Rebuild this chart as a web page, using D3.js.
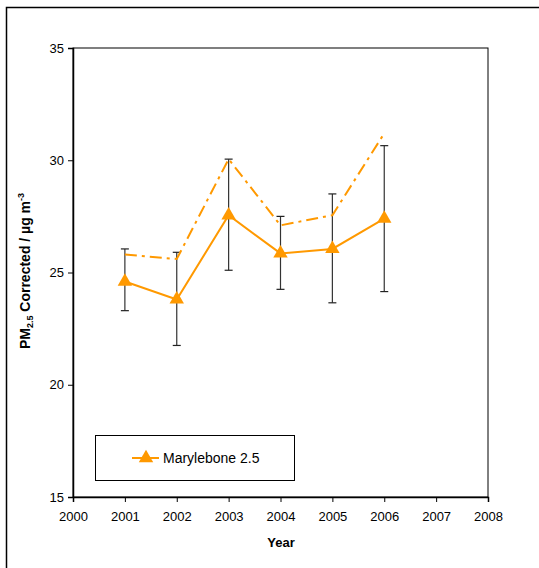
<!DOCTYPE html>
<html><head><meta charset="utf-8">
<script src="https://cdn.jsdelivr.net/npm/d3@7"></script>
<style>
body{margin:0;background:#fff;}
svg{font-family:Arial,"Liberation Sans",sans-serif;}
</style></head>
<body>
<svg id="c" width="539" height="568"></svg>
<script>
const years = [2001, 2002, 2003, 2004, 2005, 2006];
const marylebone = [24.6, 23.8, 27.55, 25.85, 26.05, 27.4];
const corrected = [25.8, 25.6, 30.05, 27.1, 27.55, 31.2];
const errLow = [23.3, 21.75, 25.1, 24.25, 23.65, 24.15];
const errHigh = [26.05, 25.9, 30.05, 27.5, 28.5, 30.65];
const xTicks = [2000, 2001, 2002, 2003, 2004, 2005, 2006, 2007, 2008];
const yTicks = [15, 20, 25, 30, 35];
const seriesName = "Marylebone 2.5";

const svg = d3.select("#c");
const L = 73, R = 488, T = 48, B = 497;
const x = d3.scaleLinear().domain([2000, 2008]).range([L, R]);
const y = d3.scaleLinear().domain([15, 35]).range([B, T]);
const orange = "#FF9900";

// outer border
svg.append("path").attr("d", "M6.5,568 V7.5 H539").attr("fill", "none").attr("stroke", "#000").attr("stroke-width", 1.5);

// plot frame
svg.append("rect").attr("x", L).attr("y", T).attr("width", R - L).attr("height", B - T)
  .attr("fill", "none").attr("stroke", "#000").attr("stroke-width", 1);

// axes
const yAxis = svg.append("g").attr("transform", `translate(${L},0)`)
  .call(d3.axisLeft(y).tickValues(yTicks).tickSize(5).tickPadding(4));
const xAxis = svg.append("g").attr("transform", `translate(0,${B})`)
  .call(d3.axisBottom(x).tickValues(xTicks).tickFormat(d3.format("d")).tickSize(5).tickPadding(10));
[yAxis, xAxis].forEach(g => {
  g.select(".domain").attr("stroke", "#000").attr("stroke-width", 1.5);
  g.selectAll(".tick line").attr("stroke", "#000");
  g.selectAll("text").attr("font-size", 13).attr("fill", "#000").attr("font-family", "Arial, 'Liberation Sans', sans-serif");
});

// error bars
const eb = svg.append("g");
years.forEach((yr, i) => {
  const cx = x(yr);
  eb.append("line").attr("x1", cx).attr("x2", cx).attr("y1", y(errLow[i])).attr("y2", y(errHigh[i]))
    .attr("stroke", "#333").attr("stroke-width", 1.2);
  [errLow[i], errHigh[i]].forEach(v => {
    eb.append("line").attr("x1", cx - 4).attr("x2", cx + 4).attr("y1", y(v)).attr("y2", y(v))
      .attr("stroke", "#222").attr("stroke-width", 1.2);
  });
});

const line = d3.line().x(d => x(d[0])).y(d => y(d[1]));

// dash-dot series
svg.append("path").datum(years.map((yr, i) => [yr, corrected[i]]))
  .attr("d", line).attr("fill", "none").attr("stroke", orange).attr("stroke-width", 2)
  .attr("stroke-dasharray", "12,5,3,5");

// solid series
svg.append("path").datum(years.map((yr, i) => [yr, marylebone[i]]))
  .attr("d", line).attr("fill", "none").attr("stroke", orange).attr("stroke-width", 2);

const tri = d3.symbol().type(d3.symbolTriangle).size(90);
svg.append("g").selectAll("path").data(years.map((yr, i) => [yr, marylebone[i]])).join("path")
  .attr("d", tri).attr("transform", d => `translate(${x(d[0])},${y(d[1])})`).attr("fill", orange);

// legend
const lg = svg.append("g");
lg.append("rect").attr("x", 95.5).attr("y", 435.5).attr("width", 199).attr("height", 45)
  .attr("fill", "#fff").attr("stroke", "#000").attr("stroke-width", 1);
lg.append("line").attr("x1", 132).attr("x2", 159).attr("y1", 458).attr("y2", 458).attr("stroke", orange).attr("stroke-width", 2);
lg.append("path").attr("d", tri).attr("transform", "translate(146,458)").attr("fill", orange);
lg.append("text").attr("x", 163).attr("y", 463).attr("font-size", 14).attr("fill", "#000").text(seriesName);

// axis titles
svg.append("text").attr("x", 281).attr("y", 547).attr("text-anchor", "middle")
  .attr("font-size", 13).attr("font-weight", "bold").text("Year");

const yt = svg.append("text").attr("transform", "translate(30,271) rotate(-90)").attr("text-anchor", "middle")
  .attr("font-size", 14).attr("font-weight", "bold");
yt.append("tspan").text("PM");
yt.append("tspan").attr("font-size", 9).attr("dy", 3).text("2.5");
yt.append("tspan").attr("dy", -3).text(" Corrected / µg m");
yt.append("tspan").attr("font-size", 9).attr("dy", -6).text("-3");
</script>
</body></html>
